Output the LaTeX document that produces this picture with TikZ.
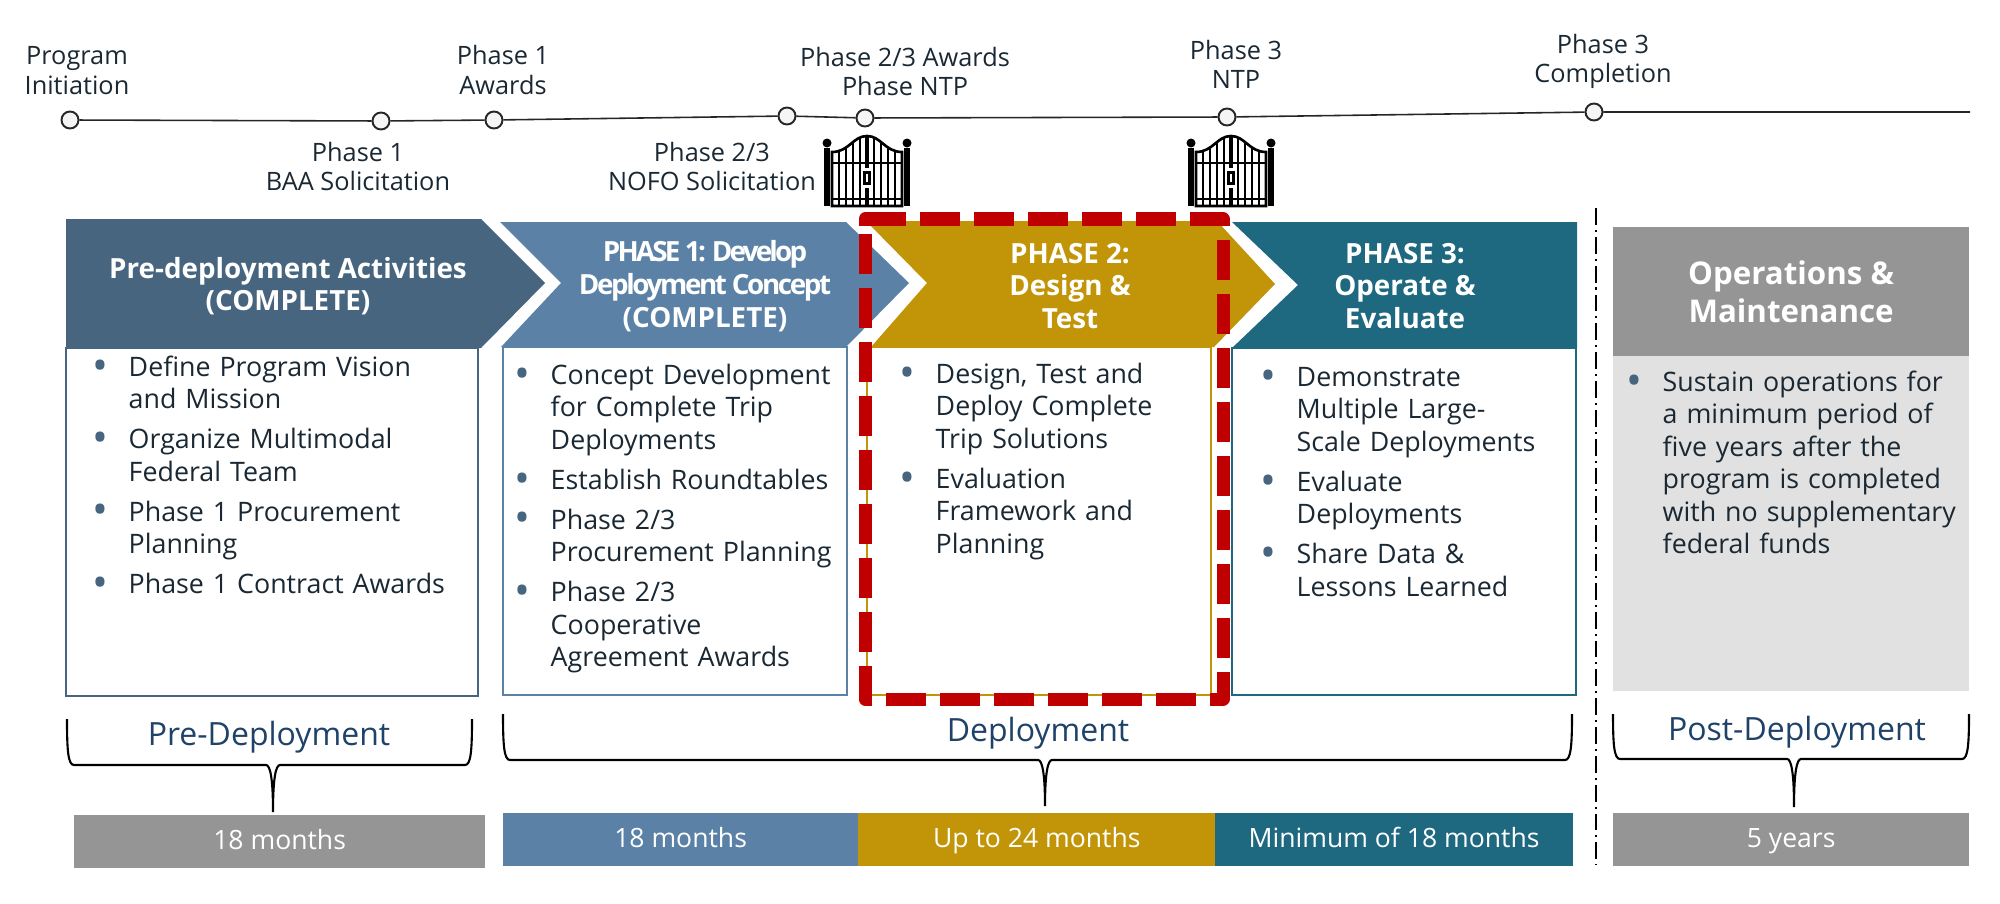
\documentclass[tikz,border=0pt]{standalone}
\usepackage{fontspec}
\setmainfont{Open Sans}
\usepackage{tikz}
\usetikzlibrary{positioning}

\definecolor{predark}{HTML}{48657F}
\definecolor{phaseblue}{HTML}{5B82A6}
\definecolor{phasegold}{HTML}{C19507}
\definecolor{phaseteal}{HTML}{1E6880}
\definecolor{opsgrey}{HTML}{959595}
\definecolor{opslight}{HTML}{E1E1E1}
\definecolor{labelnavy}{HTML}{1F4268}
\definecolor{bodyink}{HTML}{1A2833}
\definecolor{gatered}{HTML}{C00000}

\newenvironment{blist}{\begin{list}{\makebox[0pt][r]{\textcolor{predark}{\fontsize{12}{12}\selectfont\raisebox{-1.1pt}{\textbullet}}}}{%
  \setlength{\leftmargin}{0.28cm}\setlength{\labelwidth}{0pt}\setlength{\labelsep}{0.20cm}%
  \setlength{\itemsep}{2.1pt}\setlength{\parsep}{0pt}\setlength{\topsep}{0pt}\setlength{\partopsep}{0pt}}}{\end{list}}

\begin{document}
\begin{tikzpicture}[x=0.01cm, y=-0.01cm, node distance=0.95cm]
  \tikzstyle{mstone}=[draw=black!85, fill=black!4, circle, line width=0.55pt, inner sep=0pt, minimum size=0.17cm]
  \tikzstyle{mslabel}=[inner sep=0pt, align=center, text=bodyink, font=\fontsize{7.2}{8.3}\selectfont]
  \tikzstyle{headtext}=[inner sep=0pt, align=center, text=white, font=\fontsize{7.9}{9.3}\selectfont\bfseries]
  \tikzstyle{bodybox}=[draw, line width=0.6pt, fill=white, anchor=north west, inner sep=0pt, outer sep=0pt]
  \tikzstyle{bodylist}=[anchor=north west, inner sep=0pt, text width=3.6cm, text=bodyink, font=\fontsize{7.62}{9.25}\selectfont]
  \tikzstyle{durbar}=[anchor=north west, inner sep=0pt, outer sep=0pt, minimum height=0.53cm, text height=6pt, text depth=1.6pt, text=white, font=\fontsize{7.55}{8.5}\selectfont]
  \tikzstyle{spanlabel}=[inner sep=0pt, text=labelnavy, font=\fontsize{9.1}{11}\selectfont]
  \tikzset{irongate/.pic={
    \fill (-43,12) rectangle (-37,70);
    \fill (37,12) rectangle (43,70);
    \fill (-40,7) circle (4.5);
    \fill (40,7) circle (4.5);
    \begin{scope}
      \clip (-35,70) -- (-35,16) .. controls (-18,16) and (-14,0) .. (0,0) .. controls (14,0) and (18,16) .. (35,16) -- (35,70) -- cycle;
      \foreach \gx in {-28,-21,-14,-7,7,14,21,28}
        \draw[line width=0.55pt] (\gx,0) -- (\gx,70);
    \end{scope}
    \draw[line width=0.75pt] (-35,70) -- (-35,16) .. controls (-18,16) and (-14,0) .. (0,0) .. controls (14,0) and (18,16) .. (35,16) -- (35,70) -- cycle;
    \draw[line width=0.55pt] (-35,27) -- (35,27);
    \draw[line width=0.55pt] (-35,63) -- (35,63);
    \fill (-2,0) rectangle (2,70);
    \fill[white] (-6,32) rectangle (6,52);
    \fill (-4,35) rectangle (4,49);
    \fill[white] (-1,38) rectangle (1,46);
  }}
  \useasboundingbox (0,0) rectangle (2000,903);

  % timeline
  \node[mstone] (ms1) at (70,120) {};
  \node[mstone] (ms2) at (381,121) {};
  \node[mstone] (ms3) at (494,120) {};
  \node[mstone] (ms4) at (787,116) {};
  \node[mstone] (ms5) at (865,118) {};
  \node[mstone] (ms6) at (1227,117) {};
  \node[mstone] (ms7) at (1594,112) {};
  \coordinate (msend) at (1970,112);
  \draw[line width=0.45pt, black!85] (ms1) -- (ms2) -- (ms3) -- (ms4) -- (ms5) -- (ms6) -- (ms7) -- (msend);
  \node[mslabel, above=0.155cm of ms1, xshift=0.07cm] (lab1) {Program\\Initiation};
  \node[mslabel, below=0.11cm of ms2, xshift=-0.23cm] (lab2) {Phase 1\\BAA Solicitation};
  \node[mslabel, above=0.155cm of ms3, xshift=0.09cm] (lab3) {Phase 1\\Awards};
  \node[mslabel, below=0.16cm of ms4, xshift=-0.75cm] (lab4) {Phase 2/3\\NOFO Solicitation};
  \node[mslabel, above=0.12cm of ms5, xshift=0.40cm] (lab5) {Phase 2/3 Awards\\Phase NTP};
  \node[mslabel, above=0.18cm of ms6, xshift=0.09cm] (lab6) {Phase 3\\NTP};
  \node[mslabel, above=0.13cm of ms7, xshift=0.09cm] (lab7) {Phase 3\\Completion};
  \pic at (867,136) {irongate};
  \pic at (1231,136) {irongate};

  % phase arrows
  \fill[predark] (66,219) -- (481,219) -- (545,283) -- (481,348) -- (66,348) -- cycle;
  \fill[phaseblue] (500,222) -- (846,222) -- (909,283) -- (846,347) -- (501,347) -- (561,283) -- cycle;
  \fill[phasegold] (866,221) -- (1217,221) -- (1275,284) -- (1214,347) -- (871,347) -- (927,283) -- cycle;
  \fill[phaseteal] (1232,222) -- (1577,222) -- (1577,348) -- (1232,348) -- (1298,285) -- cycle;
  \node[headtext] (headpre) at (288,286) {Pre-deployment Activities\\(COMPLETE)};
  \node[headtext] (headone) at (705,286) {{\addfontfeatures{LetterSpace=-10}PHASE 1: Develop}\\{\addfontfeatures{LetterSpace=-8.5}Deployment Concept}\\(COMPLETE)};
  \node[headtext] (headtwo) at (1070,286) {PHASE 2:\\Design \&\\Test};
  \node[headtext] (headthree) at (1405,286) {PHASE 3:\\Operate \&\\Evaluate};

  % boxes under the arrows
  \node[bodybox, draw=predark, minimum width=4.12cm, minimum height=3.48cm] (bodypre) at (66,348) {};
  \node[bodybox, draw=phaseblue, minimum width=3.44cm, minimum height=3.48cm] (bodyone) at (503,347) {};
  \node[bodybox, draw=phasegold, minimum width=3.44cm, minimum height=3.48cm] (bodytwo) at (867,347) {};
  \node[bodybox, draw=phaseteal, minimum width=3.44cm, minimum height=3.47cm] (bodythree) at (1232,348) {};
  \node[bodylist] (listpre) at (100,343) {\begin{blist}
    \item Define Program Vision\\and Mission
    \item Organize Multimodal\\Federal Team
    \item Phase 1 Procurement\\Planning
    \item Phase 1 Contract Awards
  \end{blist}};
  \node[bodylist] (listone) at (522,351) {\begin{blist}
    \item Concept Development\\for Complete Trip\\Deployments
    \item Establish Roundtables
    \item Phase 2/3\\Procurement Planning
    \item Phase 2/3\\Cooperative\\Agreement Awards
  \end{blist}};
  \node[bodylist] (listtwo) at (907,350) {\begin{blist}
    \item Design, Test and\\Deploy Complete\\Trip Solutions
    \item Evaluation\\Framework and\\Planning
  \end{blist}};
  \node[bodylist] (listthree) at (1268,353) {\begin{blist}
    \item Demonstrate\\Multiple Large-\\Scale Deployments
    \item Evaluate\\Deployments
    \item Share Data \&\\Lessons Learned
  \end{blist}};

  % operations column
  \node[anchor=north west, inner sep=0pt, outer sep=0pt, fill=opsgrey, text=white, align=center, minimum width=3.56cm, minimum height=1.29cm, font=\fontsize{8.9}{10.8}\selectfont\bfseries] (headops) at (1613,227) {Operations \&\\Maintenance};
  \node[anchor=north west, inner sep=0pt, outer sep=0pt, fill=opslight, minimum width=3.56cm, minimum height=3.35cm] (bodyops) at (1613,356) {};
  \node[bodylist] (listops) at (1634,358) {\begin{blist}
    \item Sustain operations for\\a minimum period of\\five years after the\\program is completed\\with no supplementary\\federal funds
  \end{blist}};

  % red gate review frame
  \draw[gatered, line width=3.7pt, line join=round, dash pattern=on 11.38pt off 3.98pt] (866,219) -- (1223,219) -- (1223,699) -- (865,699) -- (865,219);
  \draw[gatered, line width=3.7pt, line join=round] (865,226) -- (865,219) -- (872,219);

  % spans and durations
  \foreach \bl/\br/\bm/\bt/\bh/\be in {67/472/273/719/765/812, 503/1572/1045/714/760/806, 1613/1969/1794/714/759/807}
    \draw[line width=0.6pt] (\bl,\bt) .. controls (\bl,{\bh-15}) and ({\bl+1},\bh) .. ({\bl+7},\bh) -- ({\bm-7},\bh) .. controls ({\bm-3},\bh) and (\bm,{\bh+12}) .. (\bm,\be) .. controls (\bm,{\bh+12}) and ({\bm+3},\bh) .. ({\bm+7},\bh) -- ({\br-7},\bh) .. controls ({\br-1},\bh) and (\br,{\bh-15}) .. (\br,\bt);
  \node[spanlabel] (spanpre) at (269,737) {Pre-Deployment};
  \node[spanlabel] (spandep) at (1038,733) {Deployment};
  \node[spanlabel] (spanpost) at (1797,732) {Post-Deployment};
  \node[durbar, fill=opsgrey, minimum width=4.11cm] (barpre) at (74,815) {18 months};
  \node[durbar, fill=phaseblue, minimum width=3.55cm] (barone) at (503,813) {18 months};
  \node[durbar, fill=phasegold, minimum width=3.57cm, right=0pt of barone] (bartwo) {Up to 24 months};
  \node[durbar, fill=phaseteal, minimum width=3.57cm, right=0pt of bartwo] (barthree) {Minimum of 18 months};
  \node[durbar, fill=opsgrey, minimum width=3.56cm] (barpost) at (1613,813) {5 years};

  % divider
  \coordinate (divtop) at (1596,208);
  \coordinate (divbot) at (1596,865);
  \draw[line width=0.6pt, dash pattern=on 4.8pt off 1.4pt on 0.6pt off 1.4pt] (divtop) -- (divbot);
\end{tikzpicture}
\end{document}
